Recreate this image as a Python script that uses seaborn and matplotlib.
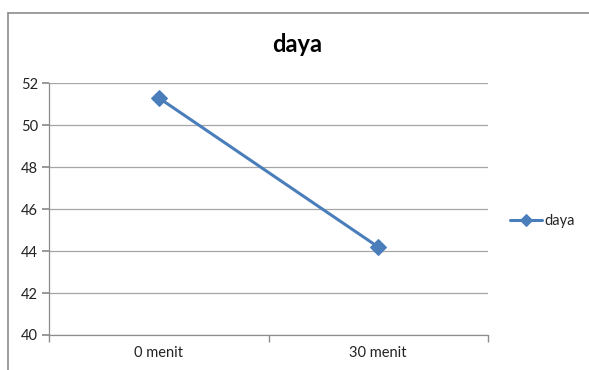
import matplotlib
matplotlib.use("Agg")
import matplotlib.pyplot as plt
from matplotlib.lines import Line2D
import seaborn as sns
import pandas as pd

categories = ["0 menit", "30 menit"]
daya = [51.3, 44.2]
y_ticks = [40, 42, 44, 46, 48, 50, 52]

sns.set_theme(style="white")
plt.rcParams["font.family"] = ["Lato", "DejaVu Sans"]

df = pd.DataFrame({"waktu": categories, "daya": daya, "seri": ["daya"] * len(daya)})

fig = plt.figure(figsize=(5.89, 3.70), dpi=100)
ax = fig.add_axes([49.3 / 589, 1 - 335 / 370, (487.7 - 49.3) / 589, (335 - 83.3) / 370])

# outer chart frame (top and left edges; the rest runs off the canvas)
frame_x, frame_y = 7.5 / 589, 1 - 12.5 / 370
fig.add_artist(Line2D([frame_x, frame_x], [-0.1, frame_y], transform=fig.transFigure,
                      color="#8c8c8c", linewidth=1.2))
fig.add_artist(Line2D([frame_x, 1.1], [frame_y, frame_y], transform=fig.transFigure,
                      color="#8c8c8c", linewidth=1.2))

blue = "#4A7EBB"
sns.lineplot(data=df, x="waktu", y="daya", hue="seri", palette=[blue], marker="D",
             markersize=8, linewidth=2.2, markeredgecolor=blue, ax=ax, sort=False)

ax.set_xlim(-0.5, 1.5)
ax.set_ylim(40, 52)
ax.set_yticks(y_ticks)
ax.set_yticklabels([str(t) for t in y_ticks], fontsize=10.5, color="#222222")
ax.set_xticks(range(len(categories)))
ax.set_xticklabels(categories, fontsize=10.5, color="#222222")
ax.set_xticks([-0.5, 0.5, 1.5], minor=True)
ax.tick_params(axis="x", which="major", length=0, pad=8)
ax.tick_params(axis="x", which="minor", length=5, color="#8c8c8c", direction="out", bottom=True)
ax.tick_params(axis="y", length=5, color="#8c8c8c", direction="out", left=True, pad=3)
ax.set_xlabel("")
ax.set_ylabel("")
ax.grid(axis="y", color="#a6a6a6", linewidth=0.9)
ax.set_axisbelow(True)
for side in ["top", "right"]:
    ax.spines[side].set_visible(False)
for side in ["left", "bottom"]:
    ax.spines[side].set_color("#8c8c8c")
    ax.spines[side].set_linewidth(0.9)

fig.text(297 / 589, 1 - 44 / 370, "daya", ha="center", va="center",
         fontsize=17, fontweight="bold", color="black")

handles, labels = ax.get_legend_handles_labels()
leg = ax.legend(handles, labels, loc="center left", bbox_to_anchor=(510 / 589, 1 - 221 / 370),
                bbox_transform=fig.transFigure, frameon=False, fontsize=10.5,
                handlelength=2.2, handletextpad=0.15, borderaxespad=0, borderpad=0)
for h in leg.legend_handles:
    h.set_markersize(6)

fig.savefig("out.png", dpi=100)
